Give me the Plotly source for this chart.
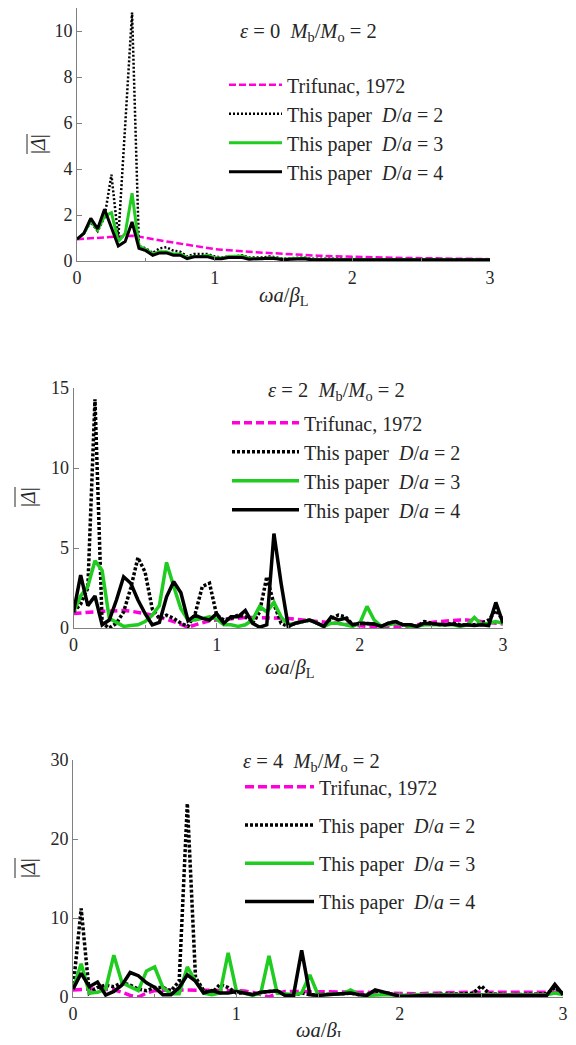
import plotly.graph_objects as go

# Page is 576x1045; the browser body keeps an 8px margin, so the figure is 560x1029
W, H = 560, 1029
OFF = 8
FONT = "Liberation Serif, Times New Roman, Times, serif"
TXT = "#262626"
AX = "#808080"

# ---------------- data ----------------
freq = [0.00, 0.05, 0.10, 0.15, 0.20, 0.25, 0.30, 0.35, 0.40, 0.45, 0.50,
        0.55, 0.60, 0.65, 0.70, 0.75, 0.80, 0.85, 0.90, 0.95, 1.00,
        1.05, 1.10, 1.15, 1.20, 1.25, 1.30, 1.35, 1.40, 1.45, 1.50,
        1.55, 1.60, 1.65, 1.70, 1.75, 1.80, 1.85, 1.90, 1.95, 2.00,
        2.05, 2.10, 2.15, 2.20, 2.25, 2.30, 2.35, 2.40, 2.45, 2.50,
        2.55, 2.60, 2.65, 2.70, 2.75, 2.80, 2.85, 2.90, 2.95, 3.00]

series_names = ["Trifunac, 1972",
                "This paper\u00a0\u00a0<i>D</i>/<i>a</i> = 2",
                "This paper\u00a0\u00a0<i>D</i>/<i>a</i> = 3",
                "This paper\u00a0\u00a0<i>D</i>/<i>a</i> = 4"]

panel_titles = ["<i>ε</i> = 0\u00a0\u00a0<i>M</i><sub>b</sub>/<i>M</i><sub>o</sub> = 2",
                "<i>ε</i> = 2\u00a0\u00a0<i>M</i><sub>b</sub>/<i>M</i><sub>o</sub> = 2",
                "<i>ε</i> = 4\u00a0\u00a0<i>M</i><sub>b</sub>/<i>M</i><sub>o</sub> = 2"]

x_ticks = [0, 1, 2, 3]
y_ticks_p1 = [0, 2, 4, 6, 8, 10]
y_ticks_p2 = [0, 5, 10, 15]
y_ticks_p3 = [0, 10, 20, 30]
y_range_p1 = [0, 11]
y_range_p2 = [0, 15]
y_range_p3 = [0, 30]

# panel 1 (eps = 0)
p1_trifunac = [0.95, 0.97, 1.0, 1.02, 1.05, 1.07, 1.09, 1.1, 1.1, 1.06,
               1.0, 0.95, 0.9, 0.85, 0.8, 0.75, 0.7, 0.65, 0.6, 0.56, 0.52,
               0.49, 0.46, 0.44, 0.42, 0.4, 0.38, 0.36, 0.34, 0.32, 0.3,
               0.29, 0.27, 0.26, 0.24, 0.23, 0.22, 0.21, 0.2, 0.19, 0.18,
               0.17, 0.16, 0.16, 0.15, 0.15, 0.14, 0.14, 0.13, 0.13, 0.12,
               0.12, 0.11, 0.11, 0.1, 0.1, 0.1, 0.09, 0.09, 0.09, 0.08]
p1_da2 = [0.95, 1.2, 1.7, 1.3, 1.9, 3.75, 1.0, 5.9, 10.8, 0.65,
          0.55, 0.35, 0.55, 0.6, 0.45, 0.4, 0.2, 0.3, 0.3, 0.3, 0.2,
          0.15, 0.2, 0.2, 0.25, 0.15, 0.15, 0.15, 0.2, 0.15, 0.1,
          0.12, 0.12, 0.15, 0.1, 0.1, 0.1, 0.12, 0.1, 0.08, 0.08,
          0.08, 0.08, 0.07, 0.07, 0.08, 0.06, 0.06, 0.07, 0.06, 0.06,
          0.05, 0.06, 0.06, 0.05, 0.05, 0.06, 0.05, 0.05, 0.05, 0.05]
p1_da3 = [0.95, 1.2, 1.75, 1.35, 1.95, 2.1, 0.85, 1.2, 2.95, 0.65,
          0.5, 0.3, 0.4, 0.4, 0.3, 0.3, 0.15, 0.2, 0.2, 0.25, 0.15,
          0.12, 0.2, 0.2, 0.22, 0.12, 0.1, 0.1, 0.15, 0.1, 0.08,
          0.1, 0.1, 0.12, 0.08, 0.08, 0.07, 0.08, 0.07, 0.06, 0.06,
          0.06, 0.06, 0.05, 0.06, 0.05, 0.05, 0.05, 0.06, 0.05, 0.05,
          0.05, 0.05, 0.05, 0.05, 0.04, 0.05, 0.05, 0.04, 0.05, 0.05]
p1_da4 = [0.95, 1.2, 1.85, 1.4, 2.25, 1.45, 0.65, 0.85, 1.7, 0.55,
          0.45, 0.25, 0.35, 0.35, 0.25, 0.25, 0.1, 0.18, 0.18, 0.18, 0.1,
          0.1, 0.15, 0.15, 0.15, 0.08, 0.1, 0.1, 0.12, 0.1, 0.05,
          0.08, 0.08, 0.1, 0.05, 0.06, 0.05, 0.05, 0.05, 0.05, 0.05,
          0.05, 0.04, 0.05, 0.05, 0.04, 0.05, 0.05, 0.04, 0.05, 0.05,
          0.04, 0.05, 0.04, 0.05, 0.05, 0.04, 0.05, 0.05, 0.04, 0.05]

# panel 2 (eps = 2)
p2_trifunac = [0.9, 0.95, 1.0, 1.0, 1.05, 1.05, 1.1, 1.1, 1.05, 1.0,
               0.9, 0.8, 0.7, 0.55, 0.4, 0.2, 0.05, 0.2, 0.35, 0.45, 0.5,
               0.55, 0.6, 0.62, 0.65, 0.65, 0.65, 0.65, 0.65, 0.62, 0.6,
               0.55, 0.5, 0.48, 0.45, 0.4, 0.35, 0.3, 0.2, 0.15, 0.1,
               0.1, 0.1, 0.1, 0.08, 0.05, 0.05, 0.1, 0.2, 0.3, 0.35,
               0.4, 0.45, 0.5, 0.5, 0.5, 0.45, 0.4, 0.35, 0.3, 0.25]
p2_da2 = [1.0, 1.5, 2.5, 14.3, 0.3, 0.0, 0.3, 1.0, 2.5, 4.4,
          3.5, 1.2, 0.6, 0.8, 0.6, 0.3, 0.1, 0.9, 2.6, 2.8, 0.8,
          0.5, 0.6, 0.8, 0.7, 0.3, 1.0, 3.2, 1.5, 0.3, 0.1,
          0.3, 0.4, 0.5, 0.3, 0.1, 0.6, 0.8, 0.7, 0.2, 0.3,
          0.3, 0.25, 0.1, 0.3, 0.4, 0.2, 0.2, 0.1, 0.4, 0.3,
          0.2, 0.2, 0.3, 0.2, 0.2, 0.2, 0.3, 0.5, 1.1, 0.5]
p2_da3 = [1.0, 2.0, 2.6, 4.2, 3.6, 0.6, 0.35, 0.1, 0.15, 0.2,
          0.4, 0.8, 1.4, 4.1, 2.6, 1.2, 0.5, 0.5, 0.6, 0.7, 0.55,
          0.2, 0.2, 0.1, 0.2, 0.5, 1.35, 1.0, 1.6, 0.7, 0.2,
          0.3, 0.4, 0.5, 0.3, 0.1, 0.3, 0.3, 0.2, 0.1, 0.3,
          1.35, 0.5, 0.1, 0.2, 0.3, 0.2, 0.1, 0.1, 0.2, 0.2,
          0.2, 0.15, 0.2, 0.1, 0.2, 0.65, 0.2, 0.3, 0.4, 0.3]
p2_da4 = [1.0, 3.3, 1.4, 2.0, 0.2, 0.5, 1.75, 3.2, 2.8, 1.75,
          0.9, 0.2, 0.35, 1.95, 2.9, 2.2, 0.45, 0.8, 0.6, 0.5, 0.9,
          0.3, 0.7, 0.7, 1.1, 0.3, 0.05, 0.2, 5.9, 2.8, 0.1,
          0.3, 0.4, 0.5, 0.3, 0.1, 0.7, 0.5, 0.6, 0.2, 0.3,
          0.3, 0.25, 0.1, 0.3, 0.4, 0.2, 0.2, 0.1, 0.3, 0.25,
          0.2, 0.2, 0.25, 0.15, 0.2, 0.15, 0.2, 0.15, 1.6, 0.3]

# panel 3 (eps = 4)
p3_trifunac = [0.9, 1.0, 1.0, 1.0, 1.0, 0.9, 0.6, 0.2, 0.0, 0.5,
               0.8, 0.9, 0.9, 0.9, 0.9, 0.9, 0.85, 0.85, 0.85, 0.8, 0.8,
               0.75, 0.6, 0.3, 0.0, 0.5, 0.7, 0.7, 0.7, 0.65, 0.65,
               0.6, 0.6, 0.6, 0.6, 0.6, 0.6, 0.55, 0.5, 0.45, 0.4,
               0.4, 0.4, 0.45, 0.5, 0.55, 0.6, 0.6, 0.6, 0.6, 0.6,
               0.6, 0.6, 0.6, 0.6, 0.6, 0.6, 0.6, 0.6, 0.6, 0.6]
p3_da2 = [1.0, 11.2, 0.5, 1.2, 1.5, 1.3, 1.8, 1.5, 1.0, 0.8,
          1.2, 1.2, 0.8, 2.0, 24.5, 2.5, 0.8, 0.5, 1.6, 1.2, 0.5,
          0.5, 0.3, 0.6, 0.7, 0.8, 0.2, 0.2, 0.5, 0.3, 0.3,
          0.3, 0.4, 0.4, 0.5, 0.3, 0.3, 0.8, 0.5, 0.3, 0.2,
          0.2, 0.3, 0.3, 0.3, 0.3, 0.3, 0.3, 0.4, 0.5, 1.4,
          0.4, 0.3, 0.3, 0.3, 0.3, 0.3, 0.3, 0.4, 1.2, 0.4]
p3_da3 = [1.0, 4.2, 0.5, 0.6, 1.0, 5.3, 1.8, 1.3, 0.8, 3.3,
          3.8, 1.2, 0.4, 0.4, 3.8, 2.0, 0.5, 0.3, 0.5, 5.6, 0.8,
          0.5, 0.2, 0.5, 5.2, 0.5, 0.4, 0.3, 0.5, 2.8, 0.3,
          0.3, 0.3, 0.4, 0.9, 0.3, 0.2, 0.3, 0.3, 0.3, 0.2,
          0.2, 0.3, 0.3, 0.3, 0.3, 0.2, 0.2, 0.3, 0.3, 0.3,
          0.2, 0.2, 0.2, 0.2, 0.3, 0.3, 0.3, 0.3, 0.5, 0.3]
p3_da4 = [1.0, 3.0, 1.3, 1.9, 0.25, 0.7, 1.5, 3.1, 2.7, 1.8,
          1.2, 0.3, 0.3, 1.2, 2.8, 2.0, 0.5, 0.8, 0.5, 0.5, 0.7,
          0.5, 0.3, 0.6, 0.7, 0.8, 0.2, 0.2, 5.9, 0.3, 0.2,
          0.3, 0.4, 0.4, 0.5, 0.3, 0.2, 0.9, 0.6, 0.3, 0.1,
          0.1, 0.2, 0.2, 0.2, 0.2, 0.2, 0.3, 0.3, 0.3, 0.2,
          0.3, 0.2, 0.2, 0.2, 0.2, 0.3, 0.2, 0.2, 1.6, 0.3]

# ---------------- styling ----------------
MAGENTA = "#FF00DA"
GREEN = "#1FCC1F"
BLACK = "#000000"
LEG_FS = 20
ANN_FS = 20.5
TICK_FS = 18


def px_x(p):  # page pixel -> paper fraction
    return min(max((p - OFF) / W, 0.0), 1.0)


def px_y(p):
    return min(max(1 - (p - OFF) / H, 0.0), 1.0)


panels = [
    dict(data=[p1_trifunac, p1_da2, p1_da3, p1_da4],
         xdom=[77, 490], ydom=[261, 8], yr=y_range_p1, yt=y_ticks_p1,
         widths=[2.5, 2.5, 3, 3], dashes=["7px,3px", "2px,2px", "solid", "solid"],
         leg=dict(x=224, y=65.2, gap=0, iw=53),
         title=(308, 32), xtitle=(283, 297), ytitle=(38, 144, 27, 134, 154)),
    dict(data=[p2_trifunac, p2_da2, p2_da3, p2_da4],
         xdom=[73.5, 503], ydom=[628, 388], yr=y_range_p2, yt=y_ticks_p2,
         widths=[3.5, 3.5, 3.5, 3.5], dashes=["8px,4px", "3px,2px", "solid", "solid"],
         leg=dict(x=227, y=403.2, gap=0, iw=67),
         title=(336, 391), xtitle=(289, 668), ytitle=(28, 497, 15, 487, 507)),
    dict(data=[p3_trifunac, p3_da2, p3_da3, p3_da4],
         xdom=[73, 563], ydom=[997, 760], yr=y_range_p3, yt=y_ticks_p3,
         widths=[3.5, 3.5, 3.5, 3.5], dashes=["9px,4px", "3px,2px", "solid", "solid"],
         leg=dict(x=240, y=767.2, gap=9.3, iw=69),
         title=(311, 762), xtitle=(320, 1031), ytitle=(28, 868, 15, 858, 878)),
]
colors = [MAGENTA, BLACK, GREEN, BLACK]

fig = go.Figure()
layout = dict(width=W, height=H, margin=dict(l=0, r=0, t=0, b=0, autoexpand=False),
              paper_bgcolor="white", plot_bgcolor="white",
              font=dict(family=FONT, size=TICK_FS, color=TXT), showlegend=True)
annotations = []
shapes = []

for i, p in enumerate(panels):
    n = i + 1
    xa = "x" if n == 1 else f"x{n}"
    ya = "y" if n == 1 else f"y{n}"
    lg = "legend" if n == 1 else f"legend{n}"
    for j, ys in enumerate(p["data"]):
        fig.add_trace(go.Scatter(
            x=freq, y=ys, mode="lines", name=series_names[j],
            xaxis=xa, yaxis=ya, legend=lg, legendgroup=f"g{n}{j}",
            line=dict(color=colors[j], width=p["widths"][j], dash=p["dashes"][j]),
            hoverinfo="skip"))
    common = dict(showline=True, linecolor=AX, linewidth=1, ticks="inside",
                  ticklen=5, tickcolor=AX, showgrid=False, zeroline=False,
                  automargin=False,
                  tickfont=dict(family=FONT, size=TICK_FS, color=TXT))
    layout["xaxis" if n == 1 else f"xaxis{n}"] = dict(
        common, domain=[px_x(p["xdom"][0]), px_x(p["xdom"][1])],
        range=[0, 3], tickvals=x_ticks, anchor=ya,
        minor=dict(dtick=0.5, ticks="inside", ticklen=3, tickcolor=AX))
    layout["yaxis" if n == 1 else f"yaxis{n}"] = dict(
        common, domain=[px_y(p["ydom"][0]), px_y(p["ydom"][1])],
        range=p["yr"], tickvals=p["yt"], anchor=xa)
    layout[lg] = dict(x=px_x(p["leg"]["x"]), y=px_y(p["leg"]["y"]),
                      xanchor="left", yanchor="top", bgcolor="rgba(0,0,0,0)",
                      font=dict(family=FONT, size=LEG_FS, color=TXT),
                      tracegroupgap=p["leg"]["gap"], itemwidth=p["leg"]["iw"],
                      traceorder="grouped")
    tx, ty = p["title"]
    annotations.append(dict(x=px_x(tx), y=px_y(ty), xref="paper", yref="paper",
                            text=panel_titles[i], showarrow=False,
                            xanchor="center", yanchor="middle",
                            font=dict(family=FONT, size=ANN_FS, color=TXT)))
    xx, xy = p["xtitle"]
    annotations.append(dict(x=px_x(xx), y=px_y(xy), xref="paper", yref="paper",
                            text="<i>ωa</i>/<i>β</i><sub>L</sub>", showarrow=False,
                            xanchor="center", yanchor="middle",
                            font=dict(family=FONT, size=ANN_FS, color=TXT)))
    yx, yy, ox, oy0, oy1 = p["ytitle"]
    annotations.append(dict(x=px_x(yx), y=px_y(yy), xref="paper", yref="paper",
                            text="|<i>Δ</i>|", showarrow=False, textangle=-90,
                            xanchor="center", yanchor="middle",
                            font=dict(family=FONT, size=20, color=TXT)))
    shapes.append(dict(type="line", xref="paper", yref="paper",
                       x0=px_x(ox), x1=px_x(ox), y0=px_y(oy0), y1=px_y(oy1),
                       line=dict(color=TXT, width=1)))

layout["annotations"] = annotations
layout["shapes"] = shapes
fig.update_layout(**layout)
fig.write_html("out.html")
